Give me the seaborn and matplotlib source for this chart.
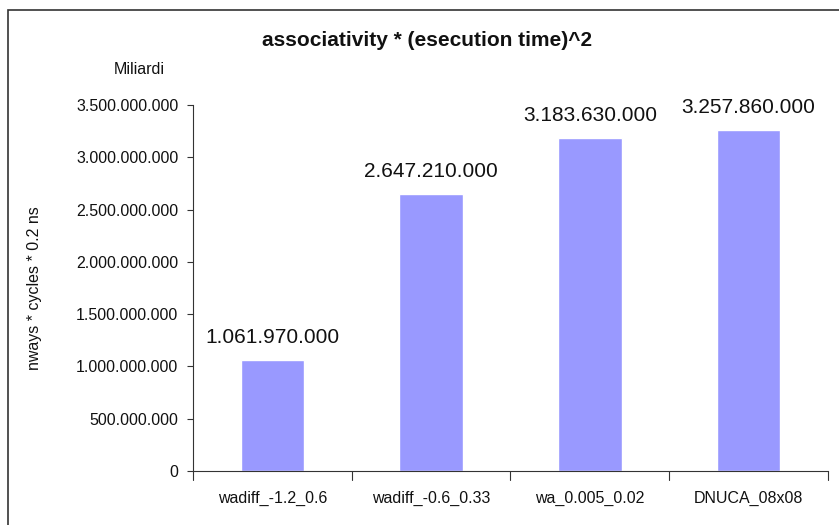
import matplotlib
matplotlib.use("Agg")
import matplotlib.pyplot as plt
import seaborn as sns
import pandas as pd
from matplotlib.patches import Rectangle

categories = ["wadiff_-1.2_0.6", "wadiff_-0.6_0.33", "wa_0.005_0.02", "DNUCA_08x08"]
values = [1061970000, 2647210000, 3183630000, 3257860000]
yticks = [0, 500000000, 1000000000, 1500000000, 2000000000, 2500000000, 3000000000, 3500000000]

def fmt(v):
    return f"{int(v):,}".replace(",", ".")

sns.set_style("white")
plt.rcParams['font.family'] = ['Liberation Sans', 'DejaVu Sans']

df = pd.DataFrame({"cat": categories, "val": values})
fig = plt.figure(figsize=(8.39, 5.25), dpi=100)
ax = fig.add_axes([193/839, 1-471/525, (828-193)/839, (471-105)/525])
sns.barplot(data=df, x="cat", y="val", color="#9999FF", width=0.4, saturation=1, ax=ax)
ax.set_xlim(-0.5, len(categories) - 0.5)
ax.set_ylim(0, 3500000000)
ax.set_yticks(yticks)
ax.set_yticklabels([fmt(v) for v in yticks], fontsize=11.5, color="#111111")
ax.set_xticks(range(len(categories)))
ax.set_xticklabels(categories, fontsize=11.5, color="#111111")
ax.tick_params(axis="x", length=0, pad=14)
ax.tick_params(axis="y", left=True, length=4, width=0.8, color="#333333", pad=6.5)
# category boundary ticks on x
for b in [-0.5, 0.5, 1.5, 2.5, 3.5]:
    ax.plot([b, b], [0, -0.025], transform=ax.get_xaxis_transform(), color="#333333", lw=0.8, clip_on=False)
for s in ["top", "right"]:
    ax.spines[s].set_visible(False)
for s in ["left", "bottom"]:
    ax.spines[s].set_color("#333333")
    ax.spines[s].set_linewidth(0.8)
ax.set_xlabel("")
ax.set_ylabel("nways * cycles * 0.2 ns", fontsize=11.5, color="#111111")
ax.yaxis.set_label_coords(-0.238, 0.5)
for i, v in enumerate(values):
    ax.annotate(fmt(v), (i, v), xytext=(0, 9.5), textcoords="offset points",
                ha="center", va="bottom", fontsize=15, color="#111111")
fig.text(427/839, 1-40/525, "associativity * (esecution time)^2", ha="center", va="center",
         fontsize=15, fontweight="bold", color="#111111")
fig.text(139/839, 1-70/525, "Miliardi", ha="center", va="center", fontsize=11.5, color="#111111")
fig.patches.append(Rectangle((8/839, -0.05), 1.2, 1 - 10/525 + 0.05, transform=fig.transFigure,
                             fill=False, edgecolor="#333333", lw=1.2))
fig.savefig("out.png", dpi=100)
